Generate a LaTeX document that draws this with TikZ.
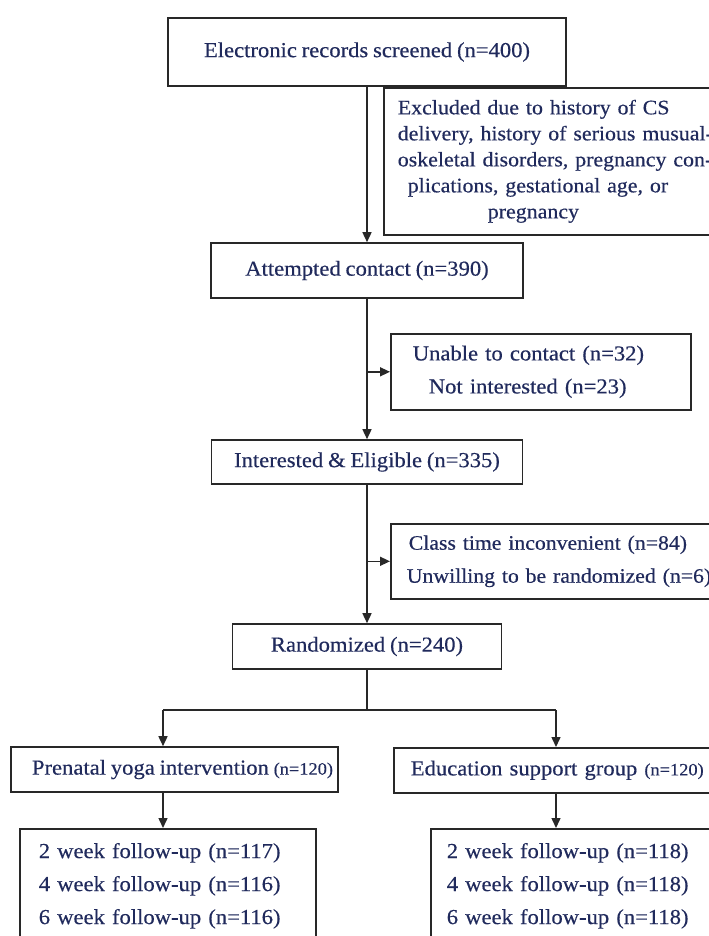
\documentclass[tikz,border=0pt]{standalone}
\usepackage{fontspec}
\setmainfont{Liberation Serif}[FakeStretch=1.06, FakeBold=0.4, WordSpace=0.85]
\usepackage{tikz}
\usetikzlibrary{arrows.meta}
\definecolor{navy}{RGB}{32,42,92}
\definecolor{boxline}{RGB}{40,40,40}
\newcommand{\smalln}[1]{{\fontsize{13}{15}\selectfont #1}}
\tikzset{
  box/.style={draw=boxline, line width=1.2pt, text=navy, inner sep=0pt,
    font=\fontsize{16}{19.5}\selectfont},
  wide/.style={box, font=\fontsize{16}{24.75}\selectfont},
  link/.style={draw=boxline, line width=1.1pt},
  arr/.style={link, -{Triangle[length=7.5pt,width=6.75pt]}},
}

\begin{document}
\begin{tikzpicture}[x=0.75pt,y=-0.75pt]
  \useasboundingbox (0,0) rectangle (709,936);
  \clip (0,0) rectangle (709,936);
  % main column
  \node (rec) at (367, 52)[box, minimum width=298.5pt, minimum height=51pt]{Electronic records screened (n=400)};
  \node (att) at (367, 270.5)[box, minimum width=234pt, minimum height=41.25pt]{Attempted contact (n=390)};
  \node (elig) at (367, 462)[box, minimum width=233.25pt, minimum height=33pt]{Interested \& Eligible (n=335)};
  \node (rand) at (367, 646.5)[box, minimum width=201.75pt, minimum height=33.75pt]{Randomized (n=240)};
  % side boxes
  \node (excl) at (383, 87)[box, anchor=north west, text width=255pt, align=left,
        inner xsep=10.5pt, minimum height=110.25pt, font=\fontsize{15.5}{19.5}\selectfont]{Excluded due to history of CS\\
        delivery, history of serious musual-\\
        oskeletal disorders, pregnancy con-\\
        \hspace*{7.5pt}plications, gestational age, or\\
        \hspace*{67.5pt}pregnancy};
  \node (unab) at (390, 333)[wide, anchor=north west, text width=192pt, align=left,
        inner xsep=16.5pt, minimum height=57pt]{Unable to contact (n=32)\\
        \hspace*{12pt}Not interested (n=23)};
  \node (cls) at (390, 523)[wide, anchor=north west, text width=250pt, align=left,
        inner xsep=12pt, minimum height=56.25pt, font=\fontsize{15.4}{24.75}\selectfont]{\hspace*{1.5pt}Class time inconvenient (n=84)\\
        Unwilling to be randomized (n=6)};
  % arms
  \node (yoga) at (174.5, 769.5)[box, minimum width=245.25pt, minimum height=33.75pt]{\hspace*{12pt}Prenatal yoga intervention \smalln{(n=120)}};
  \node (edu) at (393, 747)[box, anchor=north west, text width=260pt, align=left,
        inner xsep=12.75pt, minimum height=33.75pt]{Education support group \smalln{(n=120)}};
  \node (fuL) at (19, 828)[wide, anchor=north west, text width=193.5pt, align=left,
        inner xsep=14.25pt, minimum height=85.5pt]{2 week follow-up (n=117)\\
        4 week follow-up (n=116)\\
        6 week follow-up (n=116)};
  \node (fuR) at (430, 828)[wide, anchor=north west, text width=220pt, align=left,
        inner xsep=12pt, minimum height=85.5pt]{2 week follow-up (n=118)\\
        4 week follow-up (n=118)\\
        6 week follow-up (n=118)};
  % connectors
  \draw [arr] (rec) -- (att);
  \draw [arr] (att) -- (elig);
  \draw [arr] (att.south |- unab.west) -- (unab.west);
  \draw [arr] (elig) -- (rand);
  \draw [arr] (elig.south |- cls.west) -- (cls.west);
  \coordinate (spl) at (163, 710);
  \coordinate (spr) at (556, 710);
  \draw [link] (rand.south) -- (rand.south |- spl);
  \draw [link] (spl) -- (spr);
  \draw [arr] (spl) -- (spl |- yoga.north);
  \draw [arr] (spr) -- (spr |- edu.north);
  \draw [arr] (spl |- yoga.south) -- (spl |- fuL.north);
  \draw [arr] (spr |- edu.south) -- (spr |- fuR.north);
\end{tikzpicture}
\end{document}
